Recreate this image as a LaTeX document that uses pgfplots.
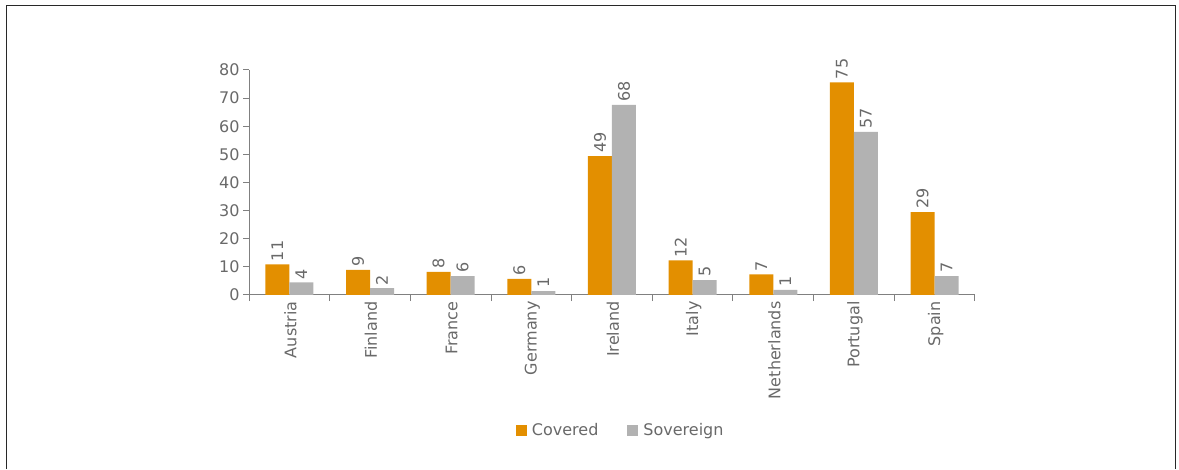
\documentclass[border=0pt]{standalone}
\usepackage{fontspec}
\setmainfont{DejaVu Sans}
\usepackage{pgfplots}
\usepackage{pgfplotstable}
\pgfplotsset{compat=1.18}
\definecolor{cov}{RGB}{227,143,0}
\definecolor{sov}{RGB}{178,178,178}
\definecolor{txt}{RGB}{105,105,105}
\definecolor{axc}{RGB}{128,128,128}
\definecolor{frm}{RGB}{40,40,40}
\newcommand\fnt{\fontsize{16pt}{19pt}\selectfont}

\pgfplotstableread{
x y lab
0 10.9 11
1 8.9 9
2 8.2 8
3 5.7 6
4 49.4 49
5 12.3 12
6 7.3 7
7 75.6 75
8 29.5 29
}\covered

\pgfplotstableread{
x y lab
0 4.5 4
1 2.4 2
2 6.7 6
3 1.4 1
4 67.6 68
5 5.3 5
6 1.8 1
7 58.0 57
8 6.7 7
}\sovereign

\begin{document}
\begin{tikzpicture}
\useasboundingbox (0,0) rectangle (1179pt,469pt);
\draw[line width=1pt, frm] (6.7pt,0pt) -- (6.7pt,463pt) -- (1175.5pt,463pt) -- (1175.5pt,0pt);
\begin{axis}[
  at={(249pt,174pt)}, anchor=south west,
  scale only axis, width=726pt, height=225pt,
  xmin=-0.5, xmax=8.5, ymin=0, ymax=80,
  axis lines*=left,
  axis line style={axc, line width=1pt},
  ybar=0pt, bar width=24pt,
  ytick={0,10,...,80},
  xtick={-0.5,0.5,...,8.5},
  xticklabels={},
  tick align=outside,
  major tick length=6pt,
  tick style={axc, line width=1pt},
  /pgf/number format/assume math mode=true,
  tick label style={font=\fnt, color=txt},
  extra x ticks={0,1,...,8},
  extra x tick labels={Austria,Finland,France,Germany,Ireland,Italy,Netherlands,Portugal,Spain},
  extra x tick style={major tick length=0pt, tick label style={xshift=1pt, yshift=-3pt, rotate=90, anchor=east}},
  point meta=explicit symbolic,
  nodes near coords,
  nodes near coords style={rotate=90, anchor=west, font=\fnt, color=txt, inner sep=3pt},
  legend columns=2,
  legend style={at={(0.512,-0.60)}, anchor=center, draw=none, font=\fnt, text=txt,
    /tikz/every odd column/.append style={column sep=3pt},
    /tikz/every even column/.append style={column sep=27pt}},
  legend image code/.code={\fill[#1] (0pt,-5.5pt) rectangle (11pt,5.5pt);},
]
\addplot[fill=cov, draw=none] table[x=x, y=y, meta=lab] {\covered};
\addplot[fill=sov, draw=none] table[x=x, y=y, meta=lab] {\sovereign};
\legend{Covered, Sovereign}
\end{axis}
\end{tikzpicture}
\end{document}
